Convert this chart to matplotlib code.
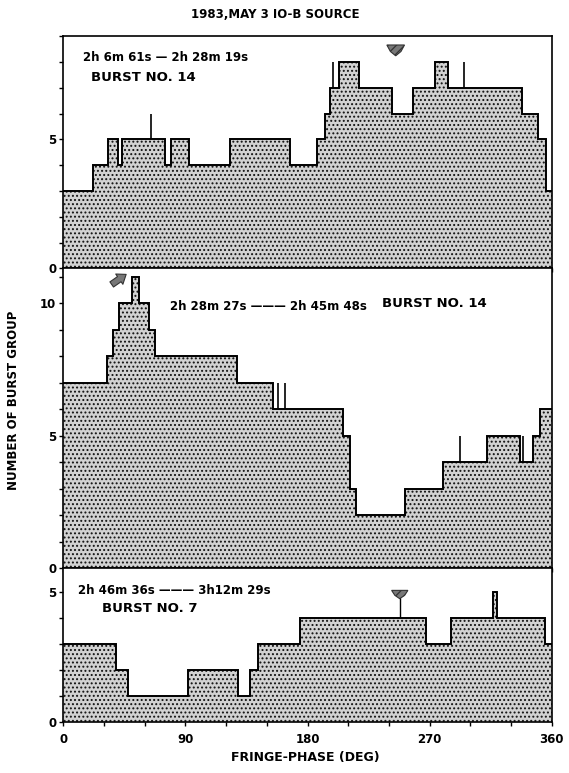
import matplotlib
matplotlib.use("Agg")
import matplotlib.pyplot as plt
import numpy as np
from matplotlib.patches import Polygon

# ---------------- data ----------------
top_edges = [0, 21.7, 33.2, 40.1, 43, 75, 79.4, 93, 123, 167, 187.2, 192.9, 196.6,
             203.4, 218, 242.5, 258, 274, 283.8, 337.9, 350.1, 356, 360]
top_counts = [3, 4, 5, 4, 5, 4, 5, 4, 5, 4, 5, 6, 7, 8, 7, 6, 7, 8, 7, 6, 5, 3]
top_spike_x = [64.6, 198.8, 295.6]
top_spike_lo = [5, 7, 7]
top_spike_hi = [6, 8, 8]

mid_edges = [0, 32, 36.9, 41.3, 50.4, 56, 63.4, 67.6, 128.3, 154.8, 206.4, 211.3,
             216, 252, 280, 312, 336.6, 346.4, 351.4, 360]
mid_counts = [7, 8, 9, 10, 11, 10, 9, 8, 7, 6, 5, 3, 2, 3, 4, 5, 4, 5, 6]
mid_spike_x = [158.5, 163.3, 292.4, 338.6]
mid_spike_lo = [6, 6, 4, 4]
mid_spike_hi = [7, 7, 5, 5]

bot_edges = [0, 39.2, 48, 92, 128.8, 137.9, 143.5, 174.7, 267, 286, 316.6, 319.8, 355, 360]
bot_counts = [3, 2, 1, 2, 1, 2, 3, 4, 3, 4, 5, 4, 3]

x_ticks = [0, 90, 180, 270, 360]
x_minor = list(range(0, 361, 30))

title = "1983,MAY 3 IO-B SOURCE"
top_time = "2h 6m 61s — 2h 28m 19s"
top_burst = "BURST NO. 14"
mid_time = "2h 28m 27s ——— 2h 45m 48s"
mid_burst = "BURST NO. 14"
bot_time = "2h 46m 36s ——— 3h12m 29s"
bot_burst = "BURST NO. 7"

# arrow markers (center x in deg, y in counts)
top_arrow = (245, 8.45)
mid_arrow = (42, 10.95)
bot_arrow = (248, 4.9, 4.0)

# ---------------- style ----------------
plt.rcParams['font.family'] = ['DejaVu Sans']
plt.rcParams['hatch.linewidth'] = 0.9
plt.rcParams['hatch.color'] = '#111111'
FS = 8.5
W, H = 569, 773
fig = plt.figure(figsize=(W / 100, H / 100), dpi=100)

left = 63.3 / W
width = (551.7 - 63.3) / W

def axes_from_px(top_px, bot_px):
    return fig.add_axes([left, 1 - bot_px / H, width, (bot_px - top_px) / H])

ax_top = axes_from_px(35.7, 268.3)
ax_mid = axes_from_px(268.3, 568.0)
ax_bot = axes_from_px(568.0, 722.0)

def draw_hist(ax, edges, counts, ymax, ylabels):
    ax.stairs(counts, edges, fill=True, facecolor='#d2d2d2', hatch='....',
              edgecolor='#111111', linewidth=0, baseline=0)
    ax.stairs(counts, edges, fill=False, color='black', linewidth=1.4, baseline=None)
    ax.set_xlim(0, 360)
    ax.set_ylim(0, ymax)
    ax.set_yticks(np.arange(0, int(ymax) + 1, 1))
    ax.set_yticklabels([str(v) if v in ylabels else '' for v in range(0, int(ymax) + 1)],
                       fontsize=FS, fontweight='bold')
    ax.set_xticks(x_minor)
    ax.set_xticklabels([])
    ax.tick_params(axis='both', direction='out', length=3, width=1, pad=2)
    for s in ax.spines.values():
        s.set_linewidth(1.2)

draw_hist(ax_top, top_edges, top_counts, 9.02, [0, 5])
draw_hist(ax_mid, mid_edges, mid_counts, 11.32, [0, 5, 10])
draw_hist(ax_bot, bot_edges, bot_counts, 5.92, [0, 5])

ax_top.vlines(top_spike_x, top_spike_lo, top_spike_hi, color='black', linewidth=1.2)
ax_mid.vlines(mid_spike_x, mid_spike_lo, mid_spike_hi, color='black', linewidth=1.2)

ax_bot.set_xticks(x_minor)
ax_bot.set_xticklabels([str(v) if v in x_ticks else '' for v in x_minor],
                       fontsize=FS, fontweight='bold')
ax_bot.tick_params(axis='x', pad=5)

# text annotations
kw = dict(fontsize=FS, fontweight='bold', ha='left', va='center')
kwb = dict(fontsize=9.5, fontweight='bold', ha='left', va='center')
ax_top.text(0.040, 0.908, top_time, transform=ax_top.transAxes, **kw)
ax_top.text(0.057, 0.822, top_burst, transform=ax_top.transAxes, **kwb)
ax_mid.text(0.218, 0.871, mid_time, transform=ax_mid.transAxes, **kw)
ax_mid.text(0.652, 0.884, mid_burst, transform=ax_mid.transAxes, **kwb)
ax_bot.text(0.030, 0.857, bot_time, transform=ax_bot.transAxes, **kw)
ax_bot.text(0.079, 0.740, bot_burst, transform=ax_bot.transAxes, **kwb)

fig.text(275 / W, 1 - 15 / H, title, fontsize=FS, fontweight='bold', ha='center', va='center')
fig.text(305 / W, 1 - 757 / H, "FRINGE-PHASE (DEG)", fontsize=9, fontweight='bold',
         ha='center', va='center')
fig.text(14 / W, 1 - 400 / H, "NUMBER OF BURST GROUP", fontsize=FS, fontweight='bold',
         ha='center', va='center', rotation=90)

# arrow markers
def down_marker(ax, x, y, w=9.0, h=0.38):
    pts = [(x - w / 2, y + h / 2), (x + w / 2, y + h / 2), (x + w * 0.3, y - h * 0.1),
           (x, y - h / 2), (x - w * 0.3, y - h * 0.1)]
    ax.add_patch(Polygon(pts, closed=True, facecolor='#777777', edgecolor='#333333',
                         linewidth=0.8, hatch='////'))

down_marker(ax_top, top_arrow[0], top_arrow[1], w=13.0, h=0.42)
down_marker(ax_bot, bot_arrow[0], bot_arrow[1], w=12.0, h=0.32)
ax_bot.vlines([bot_arrow[0]], bot_arrow[2], bot_arrow[1] - 0.15, color='black', linewidth=1.0)
ax_mid.annotate('', xy=(mid_arrow[0] + 6, mid_arrow[1] + 0.2), xytext=(mid_arrow[0] - 8, mid_arrow[1] - 0.3),
                arrowprops=dict(arrowstyle='simple,head_width=0.9,head_length=0.6,tail_width=0.45',
                                facecolor='#777777', edgecolor='#333333', linewidth=0.8))

fig.savefig("out.png", dpi=100)
